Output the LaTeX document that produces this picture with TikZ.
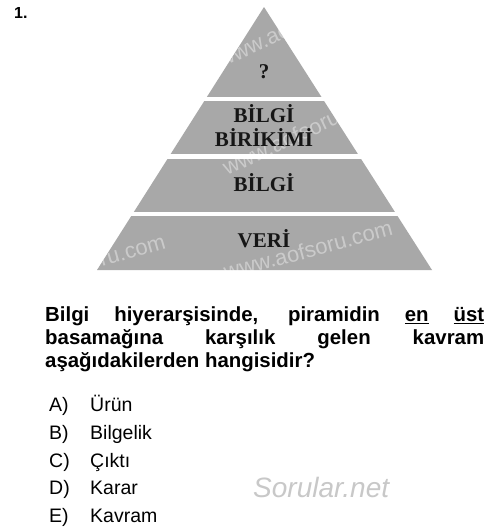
\documentclass[tikz,border=0pt]{standalone}
\usepackage{fontspec}
\setmainfont{Liberation Serif}
\setsansfont{Liberation Sans}
\definecolor{pyrgray}{RGB}{168,168,168}
\definecolor{lbltext}{RGB}{22,22,22}
\definecolor{wmgray}{RGB}{200,200,200}
\begin{document}
\begin{tikzpicture}[x=1pt,y=-1pt,
  lvl/.style={font=\fontsize{21}{24}\selectfont\rmfamily\bfseries, text=lbltext, anchor=base, inner sep=0},
  opt/.style={font=\fontsize{19.5}{22}\selectfont\sffamily, anchor=base west, inner sep=0},
  wm/.style={font=\fontsize{22}{24}\selectfont\sffamily, text=white, opacity=0.4, inner sep=0},
  gap/.style={fill=white},
]
\useasboundingbox (0,0) rectangle (500,528);
\fill[white] (0,0) rectangle (500,528);

% number
\node[font=\fontsize{16}{18}\selectfont\sffamily\bfseries, anchor=base west, inner sep=0] (num) at (14,18.3) {1.};

% pyramid
\coordinate (apex) at (264,7);
\coordinate (bl) at (97,270);
\coordinate (br) at (432,270);
\fill[pyrgray] (apex) -- (br) -- (bl) -- cycle;
\begin{scope}
  \clip (apex) -- (br) -- (bl) -- cycle;
  \node[wm, anchor=base west, rotate=25] (wm1) at (222,68) {www.aofsoru.com};
  \node[wm, anchor=base west, rotate=25] (wm2) at (227,176) {www.aofsoru.com};
  \node[wm, anchor=base west, rotate=15] (wm3) at (226,280) {www.aofsoru.com};
  \node[wm, anchor=base east, rotate=16] (wm4) at (167,248) {www.aofsoru.com};
\end{scope}
\fill[gap] (90,96.5) rectangle (440,100.5);
\fill[gap] (90,154) rectangle (440,158.5);
\fill[gap] (90,211.5) rectangle (440,215.5);

\node[lvl] (top) at (264,78) {?};
\node[lvl] (bb1) at (264,122.7) {BİLGİ};
\node[lvl] (bb2) at (264,146.7) {BİRİKİMİ};
\node[lvl] (bilgi) at (264,191.5) {BİLGİ};
\node[lvl] (veri) at (264,247) {VERİ};

% question
\node[anchor=base west, inner sep=0,
      font=\fontsize{20.4}{22.8}\selectfont\sffamily\bfseries] (q) at (45,321.7)
  {\parbox[t]{439pt}{Bilgi hiyerarşisinde, piramidin \underline{en} \underline{üst}\linebreak
   basamağına karşılık gelen kavram\linebreak
   aşağıdakilerden hangisidir?}};

% options
\node[opt] (la) at (49,411.5) {A)};
\node[opt] (ta) at (90,411.5) {Ürün};
\node[opt] (lb) at (49,439) {B)};
\node[opt] (tb) at (90,439) {Bilgelik};
\node[opt] (lc) at (49,467) {C)};
\node[opt] (tc) at (90,467) {Çıktı};
\node[opt] (ld) at (49,494.5) {D)};
\node[opt] (td) at (90,494.5) {Karar};
\node[opt] (le) at (49,522) {E)};
\node[opt] (te) at (90,522) {Kavram};

% watermark
\node[font=\fontsize{28}{30}\selectfont\sffamily\itshape, text=wmgray, anchor=base west, inner sep=0] (sn) at (253,497) {Sorular.net};
\end{tikzpicture}
\end{document}
